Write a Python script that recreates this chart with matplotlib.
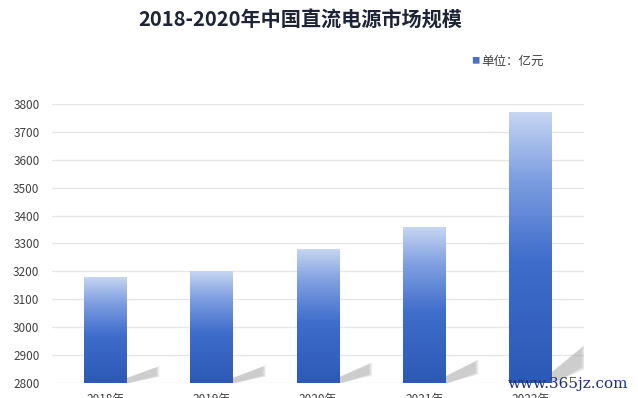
import matplotlib
matplotlib.use("Agg")
import matplotlib.pyplot as plt
import numpy as np
from matplotlib.colors import LinearSegmentedColormap
from matplotlib.patches import Polygon

plt.rcParams['font.family'] = ['Noto Sans CJK SC', 'DejaVu Sans']

categories = ["2018年", "2019年", "2020年", "2021年", "2022年"]
values = [3178, 3198, 3278, 3358, 3770]
y_ticks = [2800, 2900, 3000, 3100, 3200, 3300, 3400, 3500, 3600, 3700, 3800]
title = "2018-2020年中国直流电源市场规模"
legend_label = "单位：亿元"

fig = plt.figure(figsize=(6.38, 3.98), dpi=100)
ax = fig.add_axes([0.0815, 0.0377, 0.8335, 0.701])

x = np.arange(len(categories))
base = 2800
bars = ax.bar(x, np.array(values) - base, bottom=base, width=0.4,
              color="none", edgecolor="none", zorder=3)

cmap = LinearSegmentedColormap.from_list(
    "barg", [(0.0, "#2d59b6"), (0.45, "#3f6dcc"), (0.75, "#7c9de0"), (1.0, "#c6d5f2")])
grad = np.linspace(0, 1, 256).reshape(-1, 1)
for b in bars:
    x0, w = b.get_x(), b.get_width()
    y0, h = b.get_y(), b.get_height()
    xr = x0 + w
    sh = 0.13 * h + 12
    L = 0.31
    # soft shadow: stacked translucent parallelograms, shrinking inward
    for k in range(5):
        t = k / 5.0
        shadow = Polygon([(xr, y0),
                          (xr, y0 + sh * (0.30 - 0.05 * t)),
                          (xr + L * (1 - 0.12 * t), y0 + sh * (1.0 - 0.12 * t)),
                          (xr + L * (1 - 0.12 * t), y0 + sh * (0.35 + 0.1 * t)),
                          (xr + 0.05 * t, y0)],
                         closed=True, facecolor="#9e9e9e", edgecolor="none",
                         alpha=0.13, zorder=2)
        ax.add_patch(shadow)
    ax.imshow(grad, extent=[x0, xr, y0, y0 + h], origin="lower", cmap=cmap,
              aspect="auto", zorder=3, interpolation="bicubic")

ax.set_xlim(-0.5, len(categories) - 0.5)
ax.set_ylim(2800, 3800)
ax.set_yticks(y_ticks)
ax.set_xticks(x)
ax.set_xticklabels(categories)
ax.grid(axis="y", color="#e6e6e6", linewidth=0.9, zorder=0)
ax.set_axisbelow(True)
for s in ax.spines.values():
    s.set_visible(False)
ax.tick_params(axis="both", length=0, labelsize=8.5, labelcolor="#404040")
ax.tick_params(axis="y", pad=9)
ax.tick_params(axis="x", pad=7)

fig.text(0.47, 0.95, title, ha="center", va="center", fontsize=14.5,
         fontweight="bold", color="#1e2436")
fig.text(0.745, 0.847, "■", ha="center", va="center", fontsize=6, color="#4a72c0")
fig.text(0.755, 0.847, legend_label, ha="left", va="center", fontsize=9, color="#404040")

fig.text(0.985, 0.035, "www.365jz.com", ha="right", va="center", fontsize=11,
         color="#22307a", family=["DejaVu Serif"])

fig.savefig("out.png", dpi=100)
